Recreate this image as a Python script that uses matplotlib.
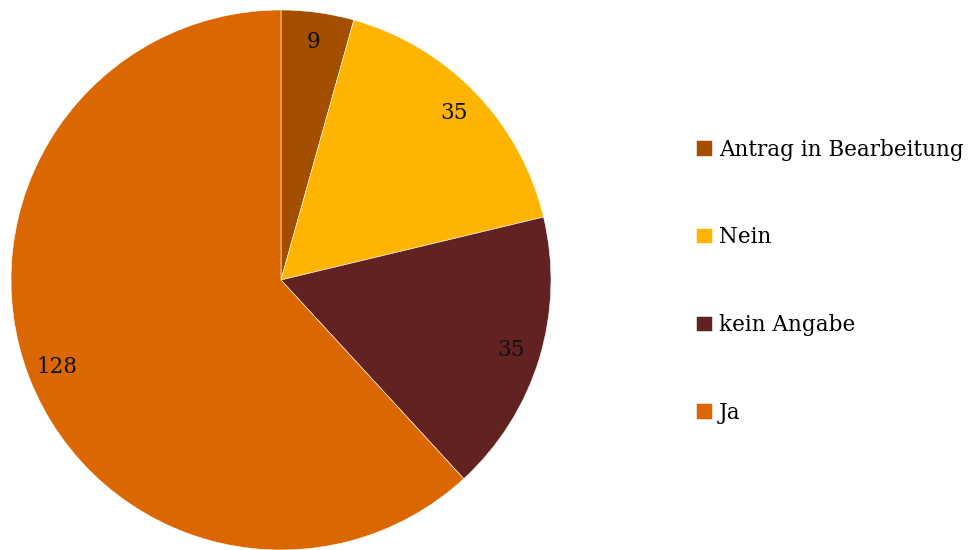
import matplotlib.pyplot as plt

# Antworten und Anzahl
labels = ['Antrag in Bearbeitung', 'Nein', 'kein Angabe', 'Ja']
counts = [9, 35, 35, 128]
colors = ['#A44E00', '#FFB400', '#632222', '#DB6700']

plt.rcParams['font.family'] = 'DejaVu Serif'

fig = plt.figure(figsize=(9.7, 5.5), dpi=100)
ax = fig.add_axes([11 / 970, 0, 540 / 970, 540 / 550])

wedges, texts, autotexts = ax.pie(
    counts, colors=colors, startangle=90, counterclock=False,
    autopct=lambda p: '%d' % round(p * sum(counts) / 100),
    pctdistance=0.89, radius=1.0,
    wedgeprops={'edgecolor': 'white', 'linewidth': 0.4},
    textprops={'fontsize': 15.5, 'color': '#111111'})
ax.set_xlim(-1, 1)
ax.set_ylim(-1, 1)
ax.set_aspect('equal')

fig.legend(wedges, labels, loc='center left', bbox_to_anchor=(0.698, 0.489),
           frameon=False, fontsize=15.5, handlelength=0.7, handleheight=0.7,
           handletextpad=0.35, labelspacing=3.05)

plt.savefig('out.png')
